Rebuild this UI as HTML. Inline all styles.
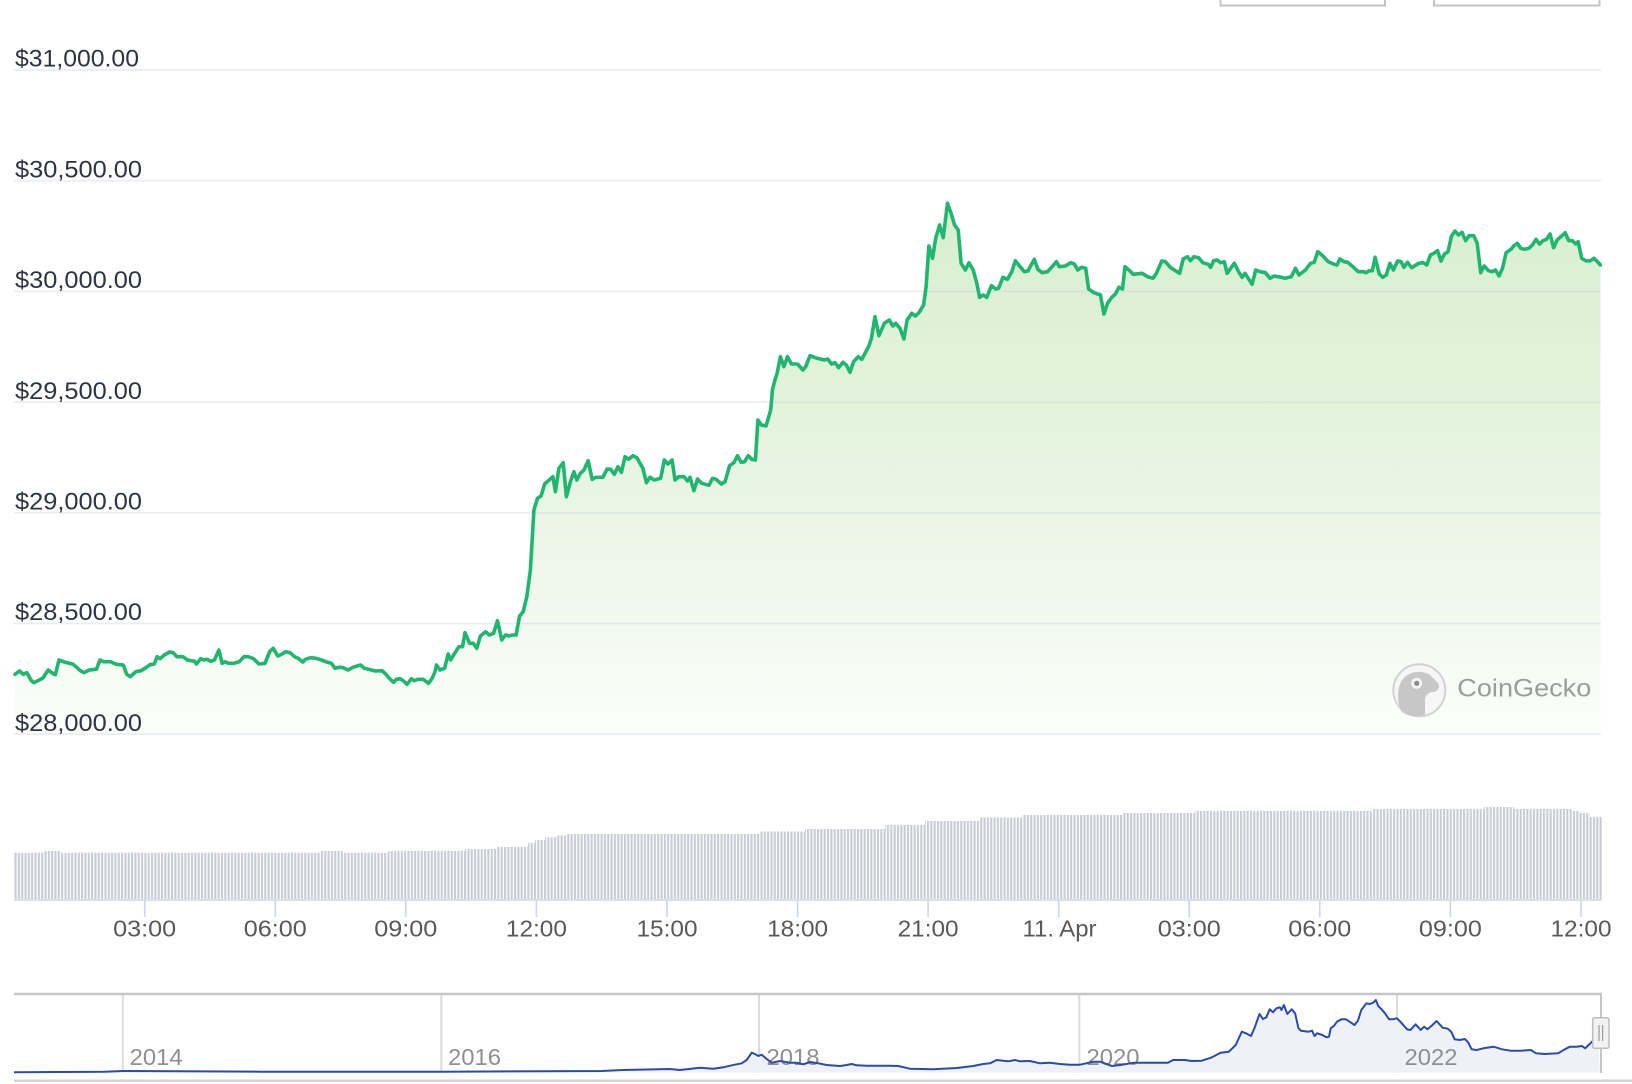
<!DOCTYPE html>
<html>
<head>
<meta charset="utf-8">
<style>
html,body{margin:0;padding:0;background:#ffffff;}
svg{display:block;}
text{font-family:"Liberation Sans",Arial,sans-serif;}
</style>
</head>
<body>
<svg width="1632" height="1084" viewBox="0 0 1632 1084" xmlns="http://www.w3.org/2000/svg">
<defs>
  <linearGradient id="ag" gradientUnits="userSpaceOnUse" x1="0" y1="195" x2="0" y2="740">
    <stop offset="0" stop-color="#d8eecf"/>
    <stop offset="0.4" stop-color="#e3f3dd"/>
    <stop offset="0.78" stop-color="#f2f9ef"/>
    <stop offset="1" stop-color="#fcfefb"/>
  </linearGradient>
  <pattern id="vb" x="14.5" y="0" width="3.33" height="20" patternUnits="userSpaceOnUse">
    <rect x="0" y="0" width="2.1" height="20" fill="#c8ccd4"/>
  </pattern>
</defs>

<rect x="0" y="0" width="1632" height="1084" fill="#ffffff"/>

<!-- top buttons -->
<rect x="1220.5" y="-10" width="164.5" height="15.5" fill="#fff" stroke="#c4c4c4" stroke-width="2"/>
<rect x="1434" y="-10" width="165.5" height="15.5" fill="#fff" stroke="#c4c4c4" stroke-width="2"/>

<!-- area fill -->
<path fill="url(#ag)" d="M15,674.3 L19.6,671 23.2,674.3 26.8,672.7 31.4,680.7 33.9,682.7 39.3,680 42.9,678 48.2,670 53.6,674 55.4,674.7 58.9,660 64.3,662 73.2,664.3 80.4,670.7 83.9,672.7 89.3,670 96.4,669.3 100,660 103.6,661.7 110.7,661.7 116.1,664.3 123.2,665 126.8,674.3 130.4,676.7 135.7,671.7 141.1,670.7 146.4,667.3 150,664.7 154.3,664 157.1,656.7 160,658.7 164.3,655 169.6,652 173.2,652.7 176.8,656.7 182.9,656.7 187.5,660 194.6,661.3 196.4,664 200.7,658.7 203.6,660 207.1,659.3 210.7,661.3 214.3,660 218.9,650 222.1,663.3 225,661.7 228.6,663.3 233.9,663.3 239.3,661.7 243.9,656.7 248.2,656.7 253.6,658.7 258.9,664 265,663.3 269.6,651.7 273.2,648.3 277.9,656 282.1,654 285.7,651.7 290,652.7 294.6,656.7 298.2,658.3 302.9,662 305.4,659.3 310.7,657.7 316.1,658.3 321.4,660 326.8,662 331.4,663.3 335,668.3 339.3,667.3 342.9,667.7 348.2,670 352.9,667.3 357.1,666 360.7,665 364.3,668.3 371.4,670 375,671 382.1,670.7 385.7,674 389.3,678.3 393.6,682.3 396.4,679.3 400,678.7 403.6,681 407.1,684.3 411.4,678.7 414.3,680.7 417.9,679.3 423.2,679.3 428.6,683.3 432.1,678.3 435,671.7 436.4,665 440,670 444.6,668.3 448.2,654 450.7,660 453.6,655 458.9,646.7 462.5,646.7 465,632.7 469.6,643.3 473.2,643.3 476.8,648.3 480.4,636 485.7,631.7 489.3,635 493.6,633.3 497.5,620.7 501.8,640 505.4,635 508.9,636 512.5,635 516.1,635 519.6,616 523.2,611.7 526.8,596.7 530.4,570 533.9,510 537.5,498.3 541.1,496 544.6,484 550,479.3 552.9,476.7 555.4,491.7 558.9,468.3 563.2,462.7 566.4,496.7 570.4,481.7 573.9,471.7 576.8,480 580.4,473.3 583.9,470 588.2,460.7 592.1,479.3 595.7,477.3 602.9,477.3 607.1,469 610.7,469.3 614.3,474.3 617.9,466.7 621.4,472.3 625,456.7 628.6,459.3 632.9,455.7 636.8,457.7 642.9,468.3 646.4,482.7 650,477.3 654.3,480 660.7,478.3 664.3,460 667.9,464 672.1,460 675,480 678.6,476.7 683.9,476.7 687.5,481 690,477.3 693.9,490.7 697.5,479 701.8,483.3 708.9,485.3 712.5,478.3 716.1,479.3 721.4,484 725,481.7 729.6,465.7 733.9,462.7 737.5,455.7 741.1,462.3 744.6,461.7 748.2,455.7 751.8,459.3 755.4,460 757.9,420 761.4,425 766,426 770.7,410 772.5,389.3 775,380 777.1,373.3 780.4,356.7 783.9,366.7 787.5,356.7 791.4,364 797.5,364 802.9,370 805.7,366.7 810,355.7 817.1,358.3 824.3,360 827.9,359 831.4,364 835,362.7 838.6,367.7 842.9,362.3 846.4,365 850,372.3 853.6,361.7 858.2,356.7 861.8,359.3 868.9,346 871.4,338.3 875,316.7 878.9,335.7 884.3,323.3 889.3,320 892.9,326 895.7,323.3 900,328.3 903.9,339 907.1,320 911.8,313.3 915.4,316 918.9,312.7 923.6,305 926.1,286.7 928.9,246 932.5,258.3 935.7,238.3 939.6,225 943.2,237.7 947.5,203.3 951.1,213.3 954.6,225 958.2,230 961.1,263.3 965.4,270 968.9,262.7 973.2,270 976.8,283.3 979.6,297.3 983.2,295 986.8,297.3 991.4,285.7 995.7,289 998.6,288.3 1002.9,277.3 1007.5,279.3 1011.8,271.7 1015.4,260.7 1019.6,266 1024.3,271.7 1027.9,271 1034.3,259.3 1037.9,269.3 1042.1,272.7 1047.5,271.7 1052.1,266.7 1056.4,261.7 1059.3,266.7 1065.4,266 1070.7,262.7 1074.3,264 1077.9,270 1081.4,267.3 1085.7,268.3 1088.6,289 1093.9,292.7 1097.5,294 1100.4,294.7 1103.9,314 1107.5,303.3 1111.8,297.3 1115.4,294 1118.9,287.3 1122.5,289 1125,266.7 1129.6,270.7 1133.2,274.3 1142.1,273.3 1147.5,276.7 1152.9,278.3 1156.4,273.3 1161.8,261 1165.4,261.7 1170.7,267.7 1174.3,270 1179.6,273.3 1183.2,259 1187.5,256.7 1190.4,260.7 1193.9,256.7 1198.6,257.7 1202.9,262.7 1208.2,264.3 1210.7,267.3 1213.6,260.7 1217.1,260 1220.7,262.7 1224.3,261.7 1227.1,273.3 1234.3,263.3 1238.6,271.7 1242.1,277.3 1245,273.3 1252.1,284.3 1255.7,270 1260,271.7 1265.4,272.7 1270,278.3 1274.3,276 1281.4,277.3 1285,278.3 1291.3,276.7 1295.5,268.3 1299,275 1305.4,270 1310.6,263.3 1314.2,262.3 1317.7,251.7 1323,256 1328.2,261.7 1333.5,264 1337,265 1339.9,259 1344.1,261.7 1347.6,262.3 1352.9,266.7 1358.2,271.7 1363.4,271.7 1365.9,272.7 1369.4,270.7 1372.3,270.7 1375.1,257.3 1379.3,274 1382.8,277.3 1386.3,275 1389.9,263.3 1393.4,270 1397.6,261 1401.1,261.7 1403.9,267.3 1407.5,262.3 1411.7,267.7 1418.7,263.3 1423.3,262.7 1426.8,265 1430.4,255 1433.9,253.3 1437.5,250.7 1441,261 1444.5,254 1448,251.7 1451.5,236 1455,231 1458.5,235 1462,232.3 1465.6,240.7 1469.1,235.7 1473.7,235.7 1477.2,243.3 1480.7,272.7 1484.2,266 1488.5,270.7 1492,271.7 1495.5,270 1499,276 1502.5,268.3 1506.1,252.7 1511.4,249 1513.8,245.7 1517.3,243.3 1520.8,248.3 1524.4,249.3 1528.9,248.3 1532.4,245 1536,239.3 1539.4,244 1543,240.7 1546.5,239.3 1550.1,234 1553.6,247.7 1557.1,240 1561.7,236 1565.2,232.7 1568.7,240.7 1572.3,240.7 1575.8,244 1578.2,241.7 1581.7,258.3 1586.3,261 1590.5,260.7 1594,258.3 1597.5,261.7 1600.4,265 L1600.4,734 L15,734 Z"/>

<!-- gridlines -->
<g stroke="#c8c8dc" stroke-opacity="0.34" stroke-width="1.7">
  <line x1="14" y1="70" x2="1601" y2="70"/>
  <line x1="14" y1="180.7" x2="1601" y2="180.7"/>
  <line x1="14" y1="291.4" x2="1601" y2="291.4"/>
  <line x1="14" y1="402.1" x2="1601" y2="402.1"/>
  <line x1="14" y1="512.8" x2="1601" y2="512.8"/>
  <line x1="14" y1="623.5" x2="1601" y2="623.5"/>
  <line x1="14" y1="734.2" x2="1601" y2="734.2"/>
</g>

<!-- y labels -->
<g fill="#2e3542" font-size="24">
  <text x="15" y="66.7" textLength="124" lengthAdjust="spacingAndGlyphs">$31,000.00</text>
  <text x="15" y="177.4" textLength="127" lengthAdjust="spacingAndGlyphs">$30,500.00</text>
  <text x="15" y="288.1" textLength="127" lengthAdjust="spacingAndGlyphs">$30,000.00</text>
  <text x="15" y="398.8" textLength="127" lengthAdjust="spacingAndGlyphs">$29,500.00</text>
  <text x="15" y="509.5" textLength="127" lengthAdjust="spacingAndGlyphs">$29,000.00</text>
  <text x="15" y="620.2" textLength="127" lengthAdjust="spacingAndGlyphs">$28,500.00</text>
  <text x="15" y="730.9" textLength="127" lengthAdjust="spacingAndGlyphs">$28,000.00</text>
</g>

<!-- CoinGecko watermark -->
<g>
  <circle cx="1419.3" cy="690.3" r="26" fill="#f6f6f6" stroke="#d2d2d2" stroke-width="2"/>
  <path d="M1401,711 C1397,700 1397,690 1401,682 C1406,672 1421,669 1430,675 L1438,683 C1441,688 1437,692 1432,692 C1428,693 1426,695 1425,699 L1425,714.5 C1417,717.5 1407,716.5 1401,711 Z" fill="#c7c7c7"/>
  <circle cx="1416.7" cy="683.3" r="5.5" fill="#f4f4f4"/>
  <circle cx="1416.7" cy="683.3" r="2.6" fill="#8a8a8a"/>
  <text x="1457.3" y="696.7" font-size="25" fill="#9c9c9c" textLength="134" lengthAdjust="spacingAndGlyphs">CoinGecko</text>
</g>

<!-- price line -->
<path fill="none" stroke="#21b66f" stroke-width="3.6" stroke-linejoin="round" stroke-linecap="round" d="M15,674.3 L19.6,671 23.2,674.3 26.8,672.7 31.4,680.7 33.9,682.7 39.3,680 42.9,678 48.2,670 53.6,674 55.4,674.7 58.9,660 64.3,662 73.2,664.3 80.4,670.7 83.9,672.7 89.3,670 96.4,669.3 100,660 103.6,661.7 110.7,661.7 116.1,664.3 123.2,665 126.8,674.3 130.4,676.7 135.7,671.7 141.1,670.7 146.4,667.3 150,664.7 154.3,664 157.1,656.7 160,658.7 164.3,655 169.6,652 173.2,652.7 176.8,656.7 182.9,656.7 187.5,660 194.6,661.3 196.4,664 200.7,658.7 203.6,660 207.1,659.3 210.7,661.3 214.3,660 218.9,650 222.1,663.3 225,661.7 228.6,663.3 233.9,663.3 239.3,661.7 243.9,656.7 248.2,656.7 253.6,658.7 258.9,664 265,663.3 269.6,651.7 273.2,648.3 277.9,656 282.1,654 285.7,651.7 290,652.7 294.6,656.7 298.2,658.3 302.9,662 305.4,659.3 310.7,657.7 316.1,658.3 321.4,660 326.8,662 331.4,663.3 335,668.3 339.3,667.3 342.9,667.7 348.2,670 352.9,667.3 357.1,666 360.7,665 364.3,668.3 371.4,670 375,671 382.1,670.7 385.7,674 389.3,678.3 393.6,682.3 396.4,679.3 400,678.7 403.6,681 407.1,684.3 411.4,678.7 414.3,680.7 417.9,679.3 423.2,679.3 428.6,683.3 432.1,678.3 435,671.7 436.4,665 440,670 444.6,668.3 448.2,654 450.7,660 453.6,655 458.9,646.7 462.5,646.7 465,632.7 469.6,643.3 473.2,643.3 476.8,648.3 480.4,636 485.7,631.7 489.3,635 493.6,633.3 497.5,620.7 501.8,640 505.4,635 508.9,636 512.5,635 516.1,635 519.6,616 523.2,611.7 526.8,596.7 530.4,570 533.9,510 537.5,498.3 541.1,496 544.6,484 550,479.3 552.9,476.7 555.4,491.7 558.9,468.3 563.2,462.7 566.4,496.7 570.4,481.7 573.9,471.7 576.8,480 580.4,473.3 583.9,470 588.2,460.7 592.1,479.3 595.7,477.3 602.9,477.3 607.1,469 610.7,469.3 614.3,474.3 617.9,466.7 621.4,472.3 625,456.7 628.6,459.3 632.9,455.7 636.8,457.7 642.9,468.3 646.4,482.7 650,477.3 654.3,480 660.7,478.3 664.3,460 667.9,464 672.1,460 675,480 678.6,476.7 683.9,476.7 687.5,481 690,477.3 693.9,490.7 697.5,479 701.8,483.3 708.9,485.3 712.5,478.3 716.1,479.3 721.4,484 725,481.7 729.6,465.7 733.9,462.7 737.5,455.7 741.1,462.3 744.6,461.7 748.2,455.7 751.8,459.3 755.4,460 757.9,420 761.4,425 766,426 770.7,410 772.5,389.3 775,380 777.1,373.3 780.4,356.7 783.9,366.7 787.5,356.7 791.4,364 797.5,364 802.9,370 805.7,366.7 810,355.7 817.1,358.3 824.3,360 827.9,359 831.4,364 835,362.7 838.6,367.7 842.9,362.3 846.4,365 850,372.3 853.6,361.7 858.2,356.7 861.8,359.3 868.9,346 871.4,338.3 875,316.7 878.9,335.7 884.3,323.3 889.3,320 892.9,326 895.7,323.3 900,328.3 903.9,339 907.1,320 911.8,313.3 915.4,316 918.9,312.7 923.6,305 926.1,286.7 928.9,246 932.5,258.3 935.7,238.3 939.6,225 943.2,237.7 947.5,203.3 951.1,213.3 954.6,225 958.2,230 961.1,263.3 965.4,270 968.9,262.7 973.2,270 976.8,283.3 979.6,297.3 983.2,295 986.8,297.3 991.4,285.7 995.7,289 998.6,288.3 1002.9,277.3 1007.5,279.3 1011.8,271.7 1015.4,260.7 1019.6,266 1024.3,271.7 1027.9,271 1034.3,259.3 1037.9,269.3 1042.1,272.7 1047.5,271.7 1052.1,266.7 1056.4,261.7 1059.3,266.7 1065.4,266 1070.7,262.7 1074.3,264 1077.9,270 1081.4,267.3 1085.7,268.3 1088.6,289 1093.9,292.7 1097.5,294 1100.4,294.7 1103.9,314 1107.5,303.3 1111.8,297.3 1115.4,294 1118.9,287.3 1122.5,289 1125,266.7 1129.6,270.7 1133.2,274.3 1142.1,273.3 1147.5,276.7 1152.9,278.3 1156.4,273.3 1161.8,261 1165.4,261.7 1170.7,267.7 1174.3,270 1179.6,273.3 1183.2,259 1187.5,256.7 1190.4,260.7 1193.9,256.7 1198.6,257.7 1202.9,262.7 1208.2,264.3 1210.7,267.3 1213.6,260.7 1217.1,260 1220.7,262.7 1224.3,261.7 1227.1,273.3 1234.3,263.3 1238.6,271.7 1242.1,277.3 1245,273.3 1252.1,284.3 1255.7,270 1260,271.7 1265.4,272.7 1270,278.3 1274.3,276 1281.4,277.3 1285,278.3 1291.3,276.7 1295.5,268.3 1299,275 1305.4,270 1310.6,263.3 1314.2,262.3 1317.7,251.7 1323,256 1328.2,261.7 1333.5,264 1337,265 1339.9,259 1344.1,261.7 1347.6,262.3 1352.9,266.7 1358.2,271.7 1363.4,271.7 1365.9,272.7 1369.4,270.7 1372.3,270.7 1375.1,257.3 1379.3,274 1382.8,277.3 1386.3,275 1389.9,263.3 1393.4,270 1397.6,261 1401.1,261.7 1403.9,267.3 1407.5,262.3 1411.7,267.7 1418.7,263.3 1423.3,262.7 1426.8,265 1430.4,255 1433.9,253.3 1437.5,250.7 1441,261 1444.5,254 1448,251.7 1451.5,236 1455,231 1458.5,235 1462,232.3 1465.6,240.7 1469.1,235.7 1473.7,235.7 1477.2,243.3 1480.7,272.7 1484.2,266 1488.5,270.7 1492,271.7 1495.5,270 1499,276 1502.5,268.3 1506.1,252.7 1511.4,249 1513.8,245.7 1517.3,243.3 1520.8,248.3 1524.4,249.3 1528.9,248.3 1532.4,245 1536,239.3 1539.4,244 1543,240.7 1546.5,239.3 1550.1,234 1553.6,247.7 1557.1,240 1561.7,236 1565.2,232.7 1568.7,240.7 1572.3,240.7 1575.8,244 1578.2,241.7 1581.7,258.3 1586.3,261 1590.5,260.7 1594,258.3 1597.5,261.7 1600.4,265"/>

<!-- volume bars -->
<path fill="url(#vb)" d="M14.5,899 L14.5,852.7 L44,852.7 L44,851 L61,851 L61,852.7 L321,852.7 L321,851 L344,851 L344,852.7 L388,852.7 L388,851 L465,851 L465,849 L497,849 L497,847 L528,847 L528,843 L535,843 L535,840 L545,840 L545,837.3 L556,837.3 L556,835.5 L566,835.5 L566,834 L760,834 L760,831.5 L805,831.5 L805,829 L885,829 L885,825 L925,825 L925,821 L980,821 L980,817.5 L1022,817.5 L1022,815 L1123,815 L1123,813 L1195,813 L1195,811 L1373,811 L1373,809 L1484,809 L1484,807 L1514,807 L1514,809 L1572,809 L1572,811 L1580,811 L1580,813 L1590,813 L1590,817 L1602,817 L1602,899 Z"/>

<!-- x axis -->
<line x1="14" y1="900" x2="1602" y2="900" stroke="#ccd6eb" stroke-width="1.6"/>
<g stroke="#ccd6eb" stroke-width="1.6">
  <line x1="144.7" y1="900" x2="144.7" y2="917"/>
  <line x1="275.3" y1="900" x2="275.3" y2="917"/>
  <line x1="405.8" y1="900" x2="405.8" y2="917"/>
  <line x1="536.4" y1="900" x2="536.4" y2="917"/>
  <line x1="667" y1="900" x2="667" y2="917"/>
  <line x1="797.6" y1="900" x2="797.6" y2="917"/>
  <line x1="928.1" y1="900" x2="928.1" y2="917"/>
  <line x1="1058.7" y1="900" x2="1058.7" y2="917"/>
  <line x1="1189.3" y1="900" x2="1189.3" y2="917"/>
  <line x1="1319.8" y1="900" x2="1319.8" y2="917"/>
  <line x1="1450.4" y1="900" x2="1450.4" y2="917"/>
  <line x1="1581" y1="900" x2="1581" y2="917"/>
</g>
<g fill="#595959" font-size="23.5" text-anchor="middle">
  <text x="144.7" y="936.7" textLength="63" lengthAdjust="spacingAndGlyphs">03:00</text>
  <text x="275.3" y="936.7" textLength="63" lengthAdjust="spacingAndGlyphs">06:00</text>
  <text x="405.8" y="936.7" textLength="63" lengthAdjust="spacingAndGlyphs">09:00</text>
  <text x="536.4" y="936.7" textLength="61" lengthAdjust="spacingAndGlyphs">12:00</text>
  <text x="667" y="936.7" textLength="61" lengthAdjust="spacingAndGlyphs">15:00</text>
  <text x="797.6" y="936.7" textLength="61" lengthAdjust="spacingAndGlyphs">18:00</text>
  <text x="928.1" y="936.7" textLength="61" lengthAdjust="spacingAndGlyphs">21:00</text>
  <text x="1059.5" y="936.7" textLength="74" lengthAdjust="spacingAndGlyphs">11. Apr</text>
  <text x="1189.3" y="936.7" textLength="63" lengthAdjust="spacingAndGlyphs">03:00</text>
  <text x="1319.8" y="936.7" textLength="63" lengthAdjust="spacingAndGlyphs">06:00</text>
  <text x="1450.4" y="936.7" textLength="63" lengthAdjust="spacingAndGlyphs">09:00</text>
  <text x="1581" y="936.7" textLength="61" lengthAdjust="spacingAndGlyphs">12:00</text>
</g>

<!-- navigator -->
<g stroke="#dcdcdc" stroke-width="2">
  <line x1="122.8" y1="994" x2="122.8" y2="1072.7"/>
  <line x1="441.3" y1="994" x2="441.3" y2="1072.7"/>
  <line x1="759" y1="994" x2="759" y2="1072.7"/>
  <line x1="1079.3" y1="994" x2="1079.3" y2="1072.7"/>
  <line x1="1397" y1="994" x2="1397" y2="1072.7"/>
</g>
<path fill="#eff1f9" d="M14,1072.3 L104.6,1071.7 123,1071 261.5,1071.7 441,1071.7 601.5,1071 622.4,1070 669.5,1069 680,1070 700,1067.7 713.3,1068.7 723.3,1067.3 731.7,1065.3 741.7,1063.3 746.7,1060 751.7,1052.7 755,1054 758.3,1056 761.7,1054.7 766.7,1059 771.7,1062.7 780,1061 790,1062.7 796.7,1062.7 803.3,1064.3 810,1062 818.3,1063.3 826.7,1065 840,1066 846.7,1065 851.7,1064 856.7,1065.3 866.7,1065.7 886.7,1065.7 898.3,1066 910,1068.7 933.3,1069.3 956.7,1068 973.3,1066 983.3,1064 990,1063.3 996.7,1060 1003.3,1060.7 1008.3,1061.3 1015,1060 1020,1061.3 1030,1061 1040,1063.3 1050,1062.7 1060,1064 1070,1064.7 1080,1064.7 1093.3,1061.7 1100,1061.7 1111.9,1066 1120.4,1065 1133.9,1062.7 1167.9,1062.7 1173,1060 1184.8,1060 1191.6,1061 1201.8,1060.7 1212,1057.3 1220.5,1052.7 1228.9,1051.7 1235.7,1045 1241.8,1031.7 1245.9,1033.3 1251,1036 1254.4,1028.3 1259.5,1014 1262.9,1019 1266.3,1017.3 1269.7,1009.3 1273.1,1012.3 1276.4,1008.3 1279.8,1007.3 1281.5,1010 1283.9,1005 1287.3,1014 1291.7,1009.3 1295.1,1013.3 1298.5,1028.3 1300.9,1030.7 1308.7,1031.7 1312.1,1030.7 1314.5,1036 1317.2,1033.3 1322.3,1035 1326.3,1037.3 1329,1036.7 1330.7,1028.3 1334.1,1025.7 1336.9,1021.7 1341.6,1019.3 1346,1019.3 1351.1,1022.7 1354.5,1025 1357.9,1020.7 1361.3,1010 1366.4,1003.3 1369.8,1004 1373.2,1002.7 1375.9,1000 1378.2,1006 1381.6,1009.3 1385,1013.3 1389.1,1019.3 1392.5,1019.3 1396.9,1018.3 1400.3,1021.7 1407.1,1029.3 1410.5,1030 1415.6,1024.3 1420.7,1030 1424.1,1026.7 1427.5,1029.3 1432.5,1025 1436.6,1021 1442.7,1027.7 1447.8,1028.7 1451.2,1031.7 1454.6,1039.3 1459.7,1040 1464.8,1039 1468.2,1042.3 1471.6,1049.3 1476.7,1050 1483.4,1048.3 1493.6,1046.7 1502.1,1049.3 1510.6,1050.7 1520.8,1050.7 1530.9,1050 1536,1053.3 1544.5,1054 1558.1,1053.3 1564.8,1049.3 1569.9,1046.7 1576.7,1046.7 1581.8,1046 1585.2,1048.3 1588.6,1045 1592,1041.7 1598,1036 L1600,1072.7 L14,1072.7 Z"/>
<g fill="#8f8f8f" font-size="23.5">
  <text x="129.7" y="1065" textLength="53" lengthAdjust="spacingAndGlyphs">2014</text>
  <text x="448" y="1065" textLength="53" lengthAdjust="spacingAndGlyphs">2016</text>
  <text x="766.5" y="1065" textLength="53" lengthAdjust="spacingAndGlyphs">2018</text>
  <text x="1086.5" y="1065" textLength="53" lengthAdjust="spacingAndGlyphs">2020</text>
  <text x="1404.5" y="1065" textLength="53" lengthAdjust="spacingAndGlyphs">2022</text>
</g>
<path fill="none" stroke="#2a4ca8" stroke-width="2" stroke-linejoin="round" d="M14,1072.3 L104.6,1071.7 123,1071 261.5,1071.7 441,1071.7 601.5,1071 622.4,1070 669.5,1069 680,1070 700,1067.7 713.3,1068.7 723.3,1067.3 731.7,1065.3 741.7,1063.3 746.7,1060 751.7,1052.7 755,1054 758.3,1056 761.7,1054.7 766.7,1059 771.7,1062.7 780,1061 790,1062.7 796.7,1062.7 803.3,1064.3 810,1062 818.3,1063.3 826.7,1065 840,1066 846.7,1065 851.7,1064 856.7,1065.3 866.7,1065.7 886.7,1065.7 898.3,1066 910,1068.7 933.3,1069.3 956.7,1068 973.3,1066 983.3,1064 990,1063.3 996.7,1060 1003.3,1060.7 1008.3,1061.3 1015,1060 1020,1061.3 1030,1061 1040,1063.3 1050,1062.7 1060,1064 1070,1064.7 1080,1064.7 1093.3,1061.7 1100,1061.7 1111.9,1066 1120.4,1065 1133.9,1062.7 1167.9,1062.7 1173,1060 1184.8,1060 1191.6,1061 1201.8,1060.7 1212,1057.3 1220.5,1052.7 1228.9,1051.7 1235.7,1045 1241.8,1031.7 1245.9,1033.3 1251,1036 1254.4,1028.3 1259.5,1014 1262.9,1019 1266.3,1017.3 1269.7,1009.3 1273.1,1012.3 1276.4,1008.3 1279.8,1007.3 1281.5,1010 1283.9,1005 1287.3,1014 1291.7,1009.3 1295.1,1013.3 1298.5,1028.3 1300.9,1030.7 1308.7,1031.7 1312.1,1030.7 1314.5,1036 1317.2,1033.3 1322.3,1035 1326.3,1037.3 1329,1036.7 1330.7,1028.3 1334.1,1025.7 1336.9,1021.7 1341.6,1019.3 1346,1019.3 1351.1,1022.7 1354.5,1025 1357.9,1020.7 1361.3,1010 1366.4,1003.3 1369.8,1004 1373.2,1002.7 1375.9,1000 1378.2,1006 1381.6,1009.3 1385,1013.3 1389.1,1019.3 1392.5,1019.3 1396.9,1018.3 1400.3,1021.7 1407.1,1029.3 1410.5,1030 1415.6,1024.3 1420.7,1030 1424.1,1026.7 1427.5,1029.3 1432.5,1025 1436.6,1021 1442.7,1027.7 1447.8,1028.7 1451.2,1031.7 1454.6,1039.3 1459.7,1040 1464.8,1039 1468.2,1042.3 1471.6,1049.3 1476.7,1050 1483.4,1048.3 1493.6,1046.7 1502.1,1049.3 1510.6,1050.7 1520.8,1050.7 1530.9,1050 1536,1053.3 1544.5,1054 1558.1,1053.3 1564.8,1049.3 1569.9,1046.7 1576.7,1046.7 1581.8,1046 1585.2,1048.3 1588.6,1045 1592,1041.7 1598,1036"/>
<!-- navigator borders -->
<line x1="14" y1="994" x2="1602" y2="994" stroke="#c6c6c6" stroke-width="2.5"/>
<line x1="1601" y1="994" x2="1601" y2="1073" stroke="#c6c6c6" stroke-width="2"/>
<line x1="14" y1="1080.7" x2="1632" y2="1080.7" stroke="#d4d4d4" stroke-width="2.5"/>
<!-- handle -->
<rect x="1592.7" y="1017.7" width="16.3" height="30.6" rx="2" fill="#f2f2f2" stroke="#bdbdbd" stroke-width="1.5"/>
<line x1="1599" y1="1025" x2="1599" y2="1041" stroke="#9a9a9a" stroke-width="1.2"/>
<line x1="1602.6" y1="1025" x2="1602.6" y2="1041" stroke="#9a9a9a" stroke-width="1.2"/>
</svg>
</body>
</html>
